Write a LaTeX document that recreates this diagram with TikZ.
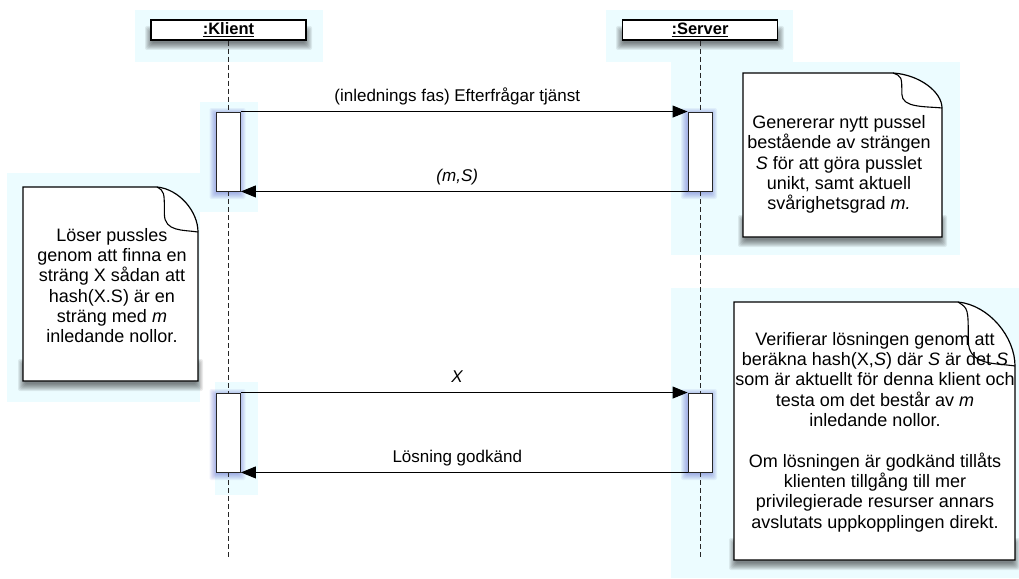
\documentclass[tikz,border=0pt]{standalone}
\usepackage{fontspec}
\setmainfont{Liberation Sans}
\usetikzlibrary{arrows.meta}
\definecolor{selcyan}{RGB}{236,252,255}
\definecolor{actshadow}{RGB}{70,80,200}
\newcommand\myul[1]{\setbox0\hbox{#1}\rlap{\rule[-2.3pt]{\wd0}{1.3pt}}\box0}
% soft shadow: x1 y1 x2 y2 colour dy
\newcommand\softshadow[6]{\foreach \r in {-1,...,6}{\fill[#5,opacity=0.075,rounded corners=2pt] ({#1-\r},{#2-\r+#6}) rectangle ({#3+\r},{#4+\r+#6});}}
% note: xl yt xr yb foldw foldh
\newcommand\drawnote[6]{%
  \softshadow{#1+1}{#4-20}{#3-1}{#4}{black}{4}
  \path[notebody] (#1,#2) -- ({#3-#5},#2) .. controls ({#3-0.45*#5},{#2+0.05*#6}) and (#3,{#2+0.55*#6}) .. (#3,{#2+#6}) -- (#3,#4) -- (#1,#4) -- cycle;
  \draw[noteline] ({#3-#5},#2) .. controls ({#3-0.82*#5},{#2+0.1*#6}) .. ({#3-0.82*#5},{#2+0.6*#6}) .. controls ({#3-0.82*#5},{#2+#6}) and ({#3-0.35*#5},{#2+0.95*#6}) .. (#3,{#2+#6});
}
\begin{document}
\begin{tikzpicture}[x=1pt,y=-1pt,
  hdr/.style={draw=black, line width=1.3pt, fill=white, minimum width=155pt, minimum height=20pt, inner sep=0pt, font=\fontsize{16.5}{18}\selectfont\bfseries},
  act/.style={draw=black!85, line width=0.9pt, fill=white, minimum width=24pt, minimum height=79pt, inner sep=0pt},
  life/.style={draw=black!85, line width=1pt, dash pattern=on 5pt off 3pt},
  msg/.style={draw=black, line width=0.9pt, -{Triangle[length=15pt,width=12pt]}},
  lbl/.style={midway, anchor=base, yshift=10pt, xshift=-7pt, inner sep=0pt, font=\fontsize{17}{20}\selectfont},
  notebody/.style={draw=black, line width=1.2pt, fill=white},
  noteline/.style={draw=black, line width=1.1pt},
  notetext/.style={align=center, inner sep=0pt, font=\fontsize{18}{20.3}\selectfont}
]
\useasboundingbox (0,0) rectangle (1019,578);
\fill[white] (0,0) rectangle (1019,578);
% selection highlights
\fill[selcyan] (135,10) rectangle (323,62);
\fill[selcyan] (606,10) rectangle (793,62);
\fill[selcyan] (200,102) rectangle (258,212);
\fill[selcyan] (671,62) rectangle (960,255);
\fill[selcyan] (7,173) rectangle (200,402);
\fill[selcyan] (215,382) rectangle (258,495);
\fill[selcyan] (671,288) rectangle (1019,578);
% shadows
\softshadow{151}{28}{306}{40}{black}{4}
\softshadow{622}{28}{778}{40}{black}{4}
\softshadow{215.5}{112}{239.5}{191}{actshadow}{2}
\softshadow{687}{112}{711}{191}{actshadow}{2}
\softshadow{215.5}{393}{239.5}{472}{actshadow}{2}
\softshadow{687}{393}{711}{472}{actshadow}{2}
% notes
\drawnote{23}{187}{198}{381}{41}{45}
\drawnote{743}{73}{942}{237}{49}{35}
\drawnote{734}{302}{1015}{560}{57}{64}
% heads
\node[hdr] (K) at (228.5,30) {\myul{:Klient}};
\node[hdr] (S) at (700,30) {\myul{:Server}};
% activations
\node[act] (a1) at (228.5,151.5) {};
\node[act] (b1) at (700,151.5) {};
\node[act] (a2) at (228.5,432.5) {};
\node[act] (b2) at (700,432.5) {};
\coordinate (Kend) at (228.5,559);
\coordinate (Send) at (700,559);
% lifelines
\draw[life] (K.south) -- (a1.north);
\draw[life] (a1.south) -- (a2.north);
\draw[life] (a2.south) -- (Kend);
\draw[life] (S.south) -- (b1.north);
\draw[life] (b1.south) -- (b2.north);
\draw[life] (b2.south) -- (Send);
% messages
\draw[msg] (a1.north east) -- (b1.north west) node[lbl] (m1) {(inlednings fas) Efterfrågar tjänst};
\draw[msg] (b1.south west) -- (a1.south east) node[lbl] (m2) {\textit{(m,S)}};
\draw[msg] (a2.north east) -- (b2.north west) node[lbl] (m3) {\textit{X}};
\draw[msg] (b2.south west) -- (a2.south east) node[lbl] (m4) {Lösning godkänd};
% note texts
\node[notetext] (t0) at (112,285.5) {Löser pussles\\genom att finna en\\sträng X sådan att\\hash(X.S) är en\\sträng med \textit{m}\\inledande nollor.};
\node[notetext] (t1) at (839,164.5) {Genererar nytt pussel\\bestående av strängen\\\textit{S} för att göra pusslet\\unikt, samt aktuell\\svårighetsgrad \textit{m.}};
\node[notetext] (t2) at (875,432) {Verifierar lösningen genom att\\beräkna hash(X,\textit{S}) där \textit{S} är det \textit{S}\\som är aktuellt för denna klient och\\testa om det består av \textit{m}\\inledande nollor.\\[20.3pt]Om lösningen är godkänd tillåts\\klienten tillgång till mer\\privilegierade resurser annars\\avslutats uppkopplingen direkt.};
\end{tikzpicture}
\end{document}
